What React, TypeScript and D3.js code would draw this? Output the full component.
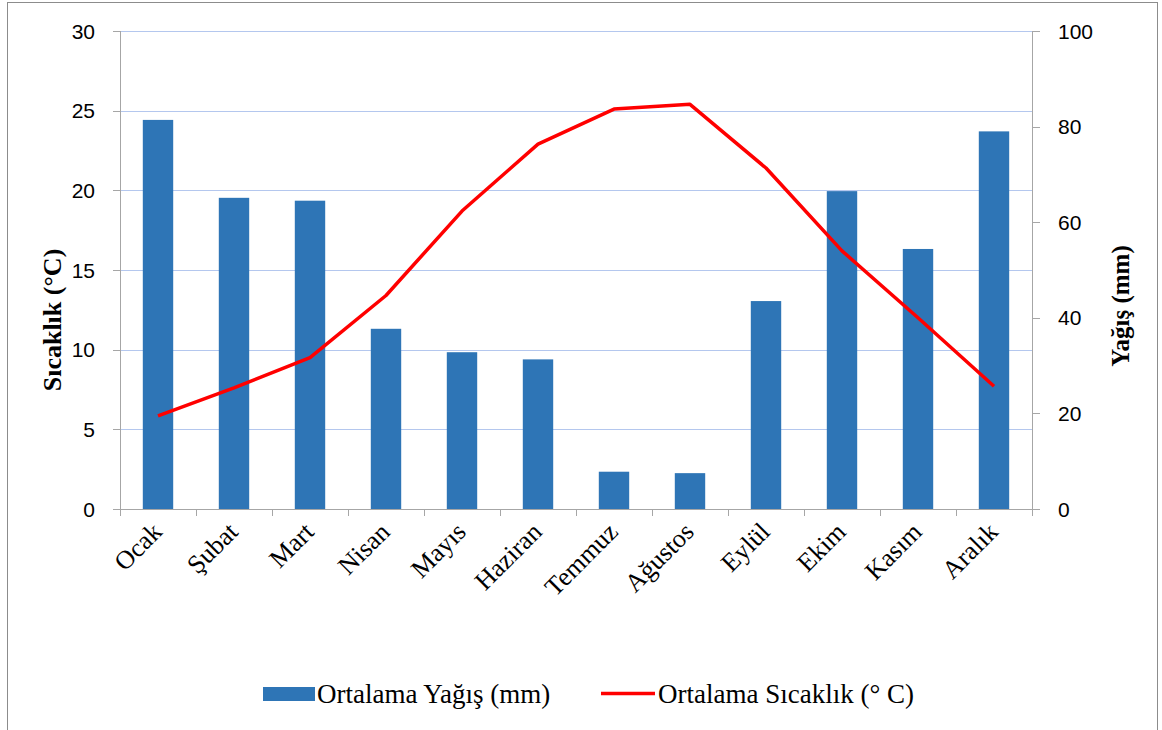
import React from 'react';
import * as d3 from 'd3';

const WIDTH = 1162;
const HEIGHT = 730;
const MARGIN = { top: 31, right: 130, bottom: 221, left: 120 };

const MONTHS = ['Ocak', 'Şubat', 'Mart', 'Nisan', 'Mayıs', 'Haziran', 'Temmuz', 'Ağustos', 'Eylül', 'Ekim', 'Kasım', 'Aralık'];
const RAIN = [81.4, 65.1, 64.5, 37.7, 32.8, 31.3, 7.8, 7.5, 43.5, 66.5, 54.4, 79.0];
const TEMP = [5.85, 7.6, 9.5, 13.4, 18.7, 22.9, 25.1, 25.4, 21.4, 16.2, 12.0, 7.7];
const TEMP_TICKS = [0, 5, 10, 15, 20, 25, 30];
const RAIN_TICKS = [0, 20, 40, 60, 80, 100];

const BAR_COLOR = '#2E75B6';
const LINE_COLOR = '#FF0000';
const GRID_COLOR = '#B4C7EE';
const AXIS_COLOR = '#A6A6A6';
const SANS = '"Liberation Sans", Arial, sans-serif';
const SERIF = '"Liberation Serif", "Times New Roman", serif';

export default function App() {
  const x0 = MARGIN.left;
  const x1 = WIDTH - MARGIN.right;
  const yTop = MARGIN.top;
  const yBot = HEIGHT - MARGIN.bottom;

  const x = d3.scaleBand<string>().domain(MONTHS).range([x0, x1]).paddingInner(0).paddingOuter(0);
  const yT = d3.scaleLinear().domain([0, 30]).range([yBot, yTop]);
  const yR = d3.scaleLinear().domain([0, 100]).range([yBot, yTop]);
  const barW = x.bandwidth() * 0.4;

  const line = d3
    .line<number>()
    .x((_, i) => (x(MONTHS[i]) ?? 0) + x.bandwidth() / 2)
    .y((d) => yT(d));

  return (
    <svg width={WIDTH} height={HEIGHT} style={{ position: 'absolute', left: 0, top: 0, background: '#fff' }}>
      <rect x={7.5} y={2.5} width={1150} height={740} fill="#fff" stroke="#8c8c8c" strokeWidth={1} />

      {TEMP_TICKS.filter((t) => t > 0).map((t) => (
        <line key={`g-${t}`} x1={x0} x2={x1} y1={Math.round(yT(t)) + 0.5} y2={Math.round(yT(t)) + 0.5} stroke={GRID_COLOR} strokeWidth={1} />
      ))}

      {RAIN.map((v, i) => (
        <rect
          key={`b-${i}`}
          x={(x(MONTHS[i]) ?? 0) + (x.bandwidth() - barW) / 2}
          y={yR(v)}
          width={barW}
          height={yBot - yR(v)}
          fill={BAR_COLOR}
        />
      ))}

      {/* left axis */}
      <line x1={x0 + 0.5} x2={x0 + 0.5} y1={yTop} y2={yBot + 7} stroke={AXIS_COLOR} />
      {TEMP_TICKS.map((t) => (
        <g key={`lt-${t}`}>
          <line x1={x0 - 7} x2={x0} y1={Math.round(yT(t)) + 0.5} y2={Math.round(yT(t)) + 0.5} stroke={AXIS_COLOR} />
          <text x={x0 - 25} y={yT(t)} dy="0.36em" textAnchor="end" fontFamily={SANS} fontSize={21} fill="#000">
            {t}
          </text>
        </g>
      ))}

      {/* right axis */}
      <line x1={x1 + 0.5} x2={x1 + 0.5} y1={yTop} y2={yBot + 7} stroke={AXIS_COLOR} />
      {RAIN_TICKS.map((t) => (
        <g key={`rt-${t}`}>
          <line x1={x1} x2={x1 + 8} y1={Math.round(yR(t)) + 0.5} y2={Math.round(yR(t)) + 0.5} stroke={AXIS_COLOR} />
          <text x={x1 + 26} y={yR(t)} dy="0.36em" textAnchor="start" fontFamily={SANS} fontSize={21} fill="#000">
            {t}
          </text>
        </g>
      ))}

      {/* x axis */}
      <line x1={x0 - 7} x2={x1 + 8} y1={yBot + 0.5} y2={yBot + 0.5} stroke={AXIS_COLOR} />
      {MONTHS.map((m) => (
        <line key={`xt-${m}`} x1={(x(m) ?? 0) + 0.5} x2={(x(m) ?? 0) + 0.5} y1={yBot} y2={yBot + 7} stroke={AXIS_COLOR} />
      ))}
      <line x1={x1 + 0.5} x2={x1 + 0.5} y1={yBot} y2={yBot + 7} stroke={AXIS_COLOR} />
      {MONTHS.map((m) => {
        const cx = (x(m) ?? 0) + x.bandwidth() / 2 - 1;
        const cy = yBot + 18;
        return (
          <text
            key={`xl-${m}`}
            x={cx}
            y={cy}
            transform={`rotate(-45, ${cx}, ${cy})`}
            textAnchor="end"
            dy="0.35em"
            fontFamily={SERIF}
            fontSize={26}
            fill="#000"
          >
            {m}
          </text>
        );
      })}

      <path d={line(TEMP) ?? ''} fill="none" stroke={LINE_COLOR} strokeWidth={3.5} strokeLinejoin="round" />

      {/* axis titles */}
      <text
        transform={`translate(61, 320) rotate(-90)`}
        textAnchor="middle"
        fontFamily={SERIF}
        fontWeight="bold"
        fontSize={26}
        fill="#000"
      >
        Sıcaklık (°C)
      </text>
      <text
        transform={`translate(1129, 306) rotate(-90)`}
        textAnchor="middle"
        fontFamily={SERIF}
        fontWeight="bold"
        fontSize={25}
        fill="#000"
      >
        Yağış (mm)
      </text>

      {/* legend */}
      <rect x={263} y={687} width={52} height={14} fill={BAR_COLOR} />
      <text x={317} y={694} dy="0.35em" fontFamily={SERIF} fontSize={27} fill="#000">
        Ortalama Yağış (mm)
      </text>
      <line x1={601} x2={655} y1={693.5} y2={693.5} stroke={LINE_COLOR} strokeWidth={3.5} />
      <text x={658} y={694} dy="0.35em" fontFamily={SERIF} fontSize={27} fill="#000">
        Ortalama Sıcaklık (° C)
      </text>
    </svg>
  );
}
